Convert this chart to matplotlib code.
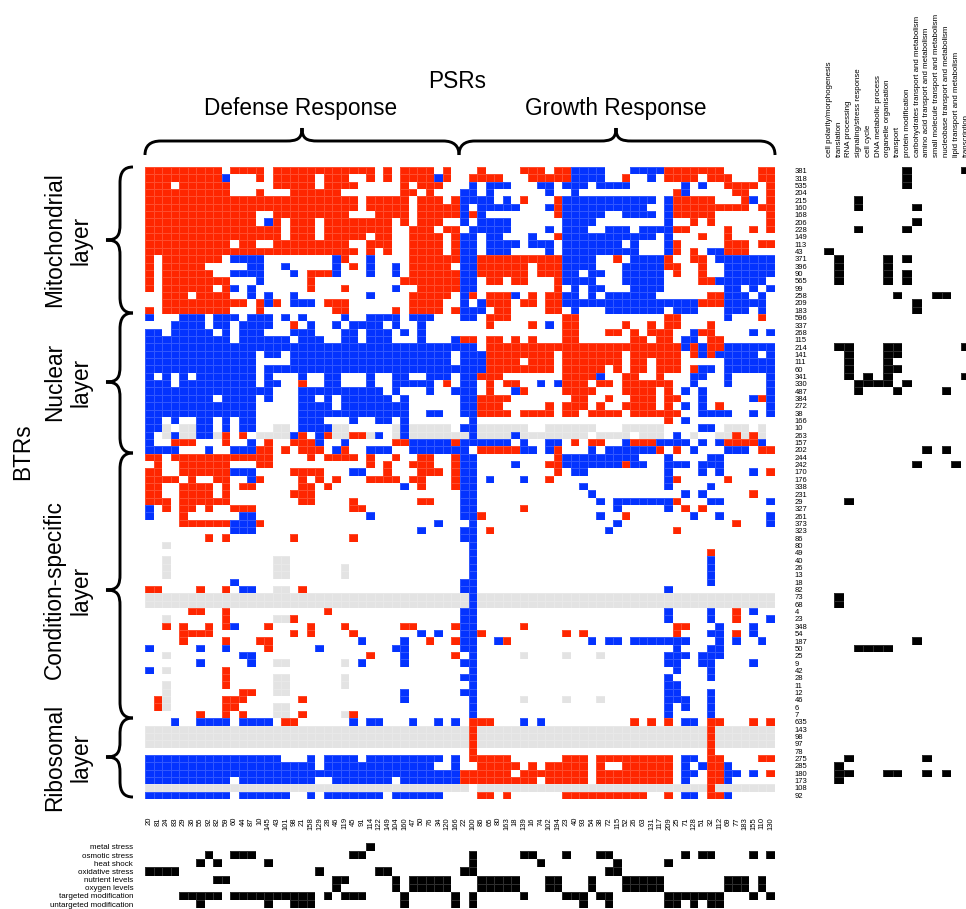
import numpy as np
import matplotlib
matplotlib.use('Agg')
import matplotlib.pyplot as plt
from matplotlib.colors import ListedColormap
from matplotlib.path import Path
from matplotlib.patches import PathPatch

plt.rcParams['font.family'] = ['Liberation Sans', 'DejaVu Sans']

# ----------------------
# Labels
# ----------------------
psr_labels = ['20','81','24','83','29','36','55','92','82','59','60','44','87','10','145','43','101','98','21','158',
              '129','28','46','119','45','91','114','122','149','104','160','47','50','76','34','120','166','22','100','86',
              '65','80','163','18','139','16','74','102','194','23','40','93','54','38','72','115','52','26','63','131',
              '117','209','25','71','128','51','32','112','69','77','183','155','110','130']
btr_labels = ['381','318','535','204','215','160','168','206','228','149','113','43','371','396','90','565','99','258','209','183',
              '596','337','268','115','214','141','111','60','341','330','487','384','272','38','166','10','263','157','202','244',
              '242','170','176','338','231','29','327','261','373','323','86','80','49','40','26','13','18','82','73','68',
              '4','23','348','54','187','50','25','9','42','28','11','12','46','6','7','635','143','98','97','78',
              '275','285','180','173','108','92']
condition_labels = ['metal stress','osmotic stress','heat shock','oxidative stress','nutrient levels','oxygen levels',
                    'targeted modification','untargeted modification']
function_labels = ['cell polarity/morphogenesis','translation','RNA processing','signaling/stress response','cell cycle',
                   'DNA metabolic process','organelle organisation','transport','protein modification',
                   'carbohydrates transport and metabolism','amino acid transport and metabolism',
                   'small molecule transport and metabolism','nucleobase transport and metabolism',
                   'lipid transport and metabolism','transcription']

# ----------------------
# Cells, one string per row
# r: red, b: blue, g: grey (no data), k: black, then column or column range
# ----------------------
main_rows = [
    "r0-8 r10-13 r15-26 r28 r30-33 r35 r39 r44-46 r48-49 b50-53 b57-60 r61-67 r72-73",
    "r0-8 b9 r13 r15-19 r21-23 r26 r28 r30-33 b34 r35 r38-41 r45-49 b50-53 r56 b59 r61-64 r66-68 r72-73",
    "r0-2 r4-9 r15-19 r21-24 r30 r32-34 b38 b40-42 b46-47 b49-51 b53-56 b63 b65 r68-71 r73",
    "r0-9 r13 r17-22 r30-31 r33 b37-38 b40 b47 b50 r62 b63 r69-70 r73",
    "r0-24 r26-30 r32-34 r36 b37-40 b42 r44 r48 b49-59 b61 r62-66 r70 b71 r73",
    "r0-24 r26-30 r32-36 b37 b39-43 b47 r48 b49-58 b61 r62-70 r72-73",
    "r0-12 r15-23 r27-30 r32-36 b37 r38 b39 r48 b49-53 b56-59 b61 r62-66 r73",
    "r0-12 b14 r15 r17-19 r21-28 r30 r32-34 b37 b39-42 b49-52 b61 r64 r66 r73",
    "r0-15 r17-19 r21-28 r31-33 r35-36 b38-42 b47 b49-51 b54-56 b58-61 r62-63 r68 r71 r73",
    "r0-15 r17-19 r21-25 r27-28 r31-34 r36 b37-38 b40-41 b45 r48 b49-59 b61 r65 r68",
    "r0-9 r11-12 r15-23 r26-28 r31-34 r36 b37-38 b40-43 b45-47 b49-55 b57 b61 r62 r68-70 r72-73",
    "r0-24 r26 r28 r31-34 r36 b37-38 b40-42 b47 b49-57 b61 r62 r64 b66-67 r68-70",
    "r0 r2-8 b10-13 b22 r23 b26 r31-36 b37-38 r39-48 b49-52 r55 b57-60 r61 r64-65 b67-73",
    "r0 r2-6 b12-13 b16 b22 r24 b26 b29 r31-35 b37-38 r39-44 r46-48 b49-52 b56-60 r61-62 r65 b68-73",
    "r0 r2-7 b10-13 b17 r19-21 b22 b26 b29 r31-36 b37-38 r39-44 r46-48 b49-50 b52-53 b56-60 r62 r65 b68-73",
    "r0 r2-9 b13 r19 r30-36 b37-38 r40-41 r43-44 r48 b49-52 b56-60 r65-66 b67-72",
    "r0 r2-7 r9 b10 b12 r19 r23 b29 r32-36 b37-38 r48 b50 b52-53 b57-60 b68-69 b71 b73",
    "r2-4 r6-9 b12 b14 b17 b26 r31-35 b37 r38 r40-42 b43 r45 r47-48 b49-50 b52 b54-59 r66-67 b68-70 b72",
    "r2-11 r13 b14 r15 b17-19 r21-23 r31-34 b37 b39 r40-42 r44-45 r47-48 b49-64 r65-67 b68-72",
    "r0 r2-9 r13 r22-23 r29 r31-34 r36 b37-39 r41-42 r47-48 b50 b54-60 b62-64 b68-70 b72",
    "b0 b4-6 b8-10 b12-14 b16 b18 b23 b26-29 b31-33 b37-38 r40-42 r49-50 r61-62 b68 r72",
    "b3-6 b8-9 b11-14 r17 b19 b22 b24-27 b29 b32 r40 r45 b47 r49-50 r56 r59 r61-62 r66",
    "b0-1 b3-7 b9 b11-13 b17-19 b23-24 b26-28 b30 b32 r49-50 r54-55 r57 r59-61 b64 r65-66 b71 b73",
    "b0-9 b11-16 b18-20 b23-24 b26-28 b32 b36 r37-38 r40-41 r43 r45 r49-50 r57-58 r60-61 b63-64 r66-67",
    "b0-38 r40-62 b63 r64 b65 r66-67 b68-73",
    "b0-12 b14-15 b17-35 b37-39 r40-47 r49-55 r57-62 r64 b65 r66 b67-71 b73",
    "b0-12 b17-35 b37-39 r40-43 r45-47 r49-55 r57-58 r60-62 b68-73",
    "b0-12 b14-39 r40-47 r49-53 r55 r57-58 r60-62 r64 b65-66 b68-73",
    "b0 b2 b4 b6-12 b14 b18 b21-22 b26 b29-30 b33-35 b37-38 r39-41 r49-52 b53 r56-57 r60 b64-65 b68 b73",
    "b0-2 b4-12 b14-15 r18 b21-22 b26 b29-33 r35 b37-38 r40 r42-43 b46 b48 r49-51 r53-54 r56-61 b64 b68 b73",
    "b0-14 b18-27 b29 b33 b36-38 r40 b43 r44 r49-52 r56-59 r61 b63 b65 b73",
    "b0-7 b9-12 b14 b18-19 b21 b23-28 b30 b37-38 r39-42 r50-51 r54 r57-59 r61-62 b65 b71 r72 b73",
    "b0-12 b18-21 b23-30 b37-38 r39-41 r47 r49-51 r53 r56-59 r61 b63 b65 r67 b73",
    "b0-12 b18-30 b33-34 b37-38 r39-42 r44-47 r49-50 r52-55 r57-62 b65-68 b71 b73",
    "b0-1 b3 b6-7 b9 b11-12 b18-20 b24 b27-28 b30 b38 r61 b63",
    "b0-1 g2 g4-5 b6-7 b9 b11-12 g15-16 b18-21 g22-23 g29 b30 g31-35 b37-38 g39-44 g47-52 g56-60 b65-66 g68-70 g72",
    "b0 g2 b3 g4-5 b6-7 g8 r9 r11 g13-16 b17 r18 b20 r21 g22-23 r24-25 g26 b27 g29 b30 g31-37 b38 g39-42 b43 g44-51 g53-56 g58-60 b62 g64 g67-68 r69 g70 r71 g72",
    "b0 r3-5 r9 b12 r14 r17-19 b20 b23 r29-30 b31-35 r36 b37-42 b44 b47-48 r50 r52-53 b56 r57-59 b60-63 b65 b67 r68-71 b72",
    "b0-3 b7 b10-12 r13-14 r16 r18-20 b22 r23 b26-28 b31-37 r39-43 b44-45 b47 r48 b52 b54-59 r60 r62 b64 b68-70 r72-73",
    "r0-1 r3-14 r19 r21-24 r26 r29 r32-33 r36 b37-38 r48 b49-57 b61 b66-67",
    "r1 r4-9 r13-14 r26 r28 r31-33 r36 b37-38 b43 r47-48 b49-55 r56 b57-58 b61-63 b65-67",
    "r0-1 r4-9 b10-12 r17-20 b24-25 r28 r32-34 r36 b37-38 r48 b50-51 b61 b65 b67 b71 r73",
    "r0-3 r5 r8-9 b12 r13 r18 r20 r22 r26-29 r31-32 r36 b37-38 b40 b44 r47 b61 r62 r68",
    "r0-1 r4-7 r9 r11-12 r18-19 r21 b30 r32 r36 b37-38 b51 b61 b66",
    "r0-1 r4-7 r9 r17-19 b37-38 b52 b63 b65 r71",
    "r0-2 r4-9 r18-19 r24 r32-33 b37-38 b53 b55-61 r62 b66-67 b73",
    "b0 r2 r4-5 r7 r10-12 r24-25 b37-38 r44 b55 b61 r63 r65",
    "b0 r4 b11-12 b26 b37-38 r39 b53 r56 b64 b67 b73",
    "r4-9 b10-12 r13 b34 b38 b55 r69 b73",
    "b10-12 b32 b37-38 r40 b54 r62",
    "r7 r9 r17 r24 b37-38",
    "g2 b38",
    "b38 r66",
    "g2 g15-16 b38 b66",
    "g2 g15-16 g23 b38 b66",
    "g2 g15-16 g23 b38 b66",
    "b10 b37-38 b66",
    "r0-1 r6 r9 b11-12 g15-16 r18 b37-38 b61",
    "g0-37 b38 g39-73",
    "g0-37 b38 g39-73",
    "r5-6 r9 r21 b37-38 b61 b66 r69 b71",
    "g2 r9 g15-16 r17 b37-38 b61 b66 r69 b73",
    "r2 r4 r7 r9 b10 r14 r19 r23 r30-31 r36 b37-38 r44 r62-63 b67 b71",
    "r4-7 r17 r19 r24 b32 b34 b37-38 r39 r49 r51 r62 b66-67 r69 b71",
    "r4 r9 r13-14 b25 b30 r33 r36 b37-38 b41 r42 b52 b54-55 b57-63 b67 b69 b72",
    "b0 b6 b9 r14 b20 b29-30 b37-38 b62 b66-67",
    "g2 b11-12 r26 b30 r36 b38 g44 g49 g53 b61-63 b65-67",
    "b6 b12 g15-16 g23 b25 b30 b37-38 b61-62 b65-66 b71",
    "b0 g2 r9 b38 b62 b66",
    "r9 g15-16 g23 b37-38 b61 b66",
    "g2 r9 g15-16 g23 b38 b61-62",
    "g2 r11-12 g15-16 b30 b37-38 b61-62 b66",
    "r1 g2 r9-11 r18 b30 b38 g44 g49 g53 b61-63 b66",
    "r1 g2 r9-10 g15-16 b38 b61 b63 b66",
    "r6 r9 r11 g15-16 r18 g23 r24 b38 b61 b66",
    "b3 b6-9 b11-14 r16-17 b24 b26-27 b31 b34 b36 r38-40 b44 b46 r57 r59 r61 b63-64 r66-67 r71 r73",
    "g0-37 r38 g39-65 r66 g67-73",
    "g0-37 r38 g39-65 r66 g67-73",
    "g0-37 r38 g39-65 r66 g67-73",
    "r38 r66",
    "b0-15 b19 b21-24 b26-34 b36 r38-42 r49-51 r53-61 b63-64 r66-67 r72-73",
    "b0-19 b21-33 b36 r39-43 r45 r47-51 r53 r56-61 b63 b65 r66-67 b68",
    "b0-36 r37-42 r44-51 r53-61 b63-64 r66-67 b68-69 b71 r73",
    "b0-9 b11-19 b22-28 b30-36 r37-45 r47-51 r53-61 b63 r66-67 b68",
    "g0-37 g39-65 r66 g67-73",
    "b0-9 b11-16 b19 b21-27 b29-34 r39-40 r42 r49-58 r61 b63-64 r66-67 b68",
]

condition_rows = [
    "k26",
    "k7 k10-12 k24-25 k38 k44-45 k49 k53-54 k63 k65-66 k71 k73",
    "k6 k8 k14 k38 k46 k55 k61",
    "k0-3 k20 k27-28 k37-38 k54-55",
    "k8-9 k22-23 k29 k31-35 k39-43 k47-48 k52 k56-60 k68-70 k72",
    "k22 k29 k31-35 k39-43 k47-48 k52 k56-60 k68-70 k72",
    "k4-8 k10-19 k21 k23-25 k30 k36 k38 k44 k49-51 k53-54 k61-67 k71 k73",
    "k6 k14 k17-19 k30 k36 k38 k51 k54 k61-62 k64 k66-67",
]

# row index in btr_labels -> cells in the function table
function_cells = {
    0: "k8 k14", 1: "k8", 2: "k8", 4: "k3", 5: "k3 k9", 7: "k9", 8: "k3 k8", 11: "k0",
    12: "k1 k6 k8", 13: "k1 k6", 14: "k1 k6 k8", 15: "k1 k6 k8", 17: "k7 k11-12", 18: "k9", 19: "k9",
    24: "k1-2 k6-7 k14", 25: "k2 k6-7", 26: "k2 k6", 27: "k2 k6-7", 28: "k2 k4 k6 k14", 29: "k3-6 k8",
    30: "k3 k7 k12", 38: "k10 k12", 40: "k9 k13", 45: "k2", 58: "k1", 59: "k1", 64: "k9", 65: "k3-6",
    80: "k2 k10", 81: "k1", 82: "k1-2 k6-7 k10 k12", 83: "k1",
}

code_values = {'r': 1, 'b': 2, 'g': 3, 'k': 4}
cell_colors = ListedColormap(['#ffffff', '#ff2600', '#0433ff', '#e3e3e3', '#000000'])

# ----------------------
# Helper: turn row strings into a matrix
# ----------------------
def build_matrix(rows, n_cols):
    matrix = np.zeros((len(rows), n_cols), dtype=int)
    for i, row in enumerate(rows):
        for token in row.split():
            code = code_values[token[0]]
            parts = token[1:].split('-')
            start = int(parts[0])
            end = int(parts[-1])
            matrix[i, start:end + 1] = code
    return matrix

def add_px_axes(fig, x, y, w, h):
    return fig.add_axes([x / 966, 1 - (y + h) / 909, w / 966, h / 909])

def draw_cells(ax, matrix, edge):
    ax.pcolormesh(matrix, cmap=cell_colors, vmin=0, vmax=4, edgecolors=edge, linewidth=0.4)
    ax.invert_yaxis()
    for spine in ax.spines.values():
        spine.set_visible(False)
    ax.tick_params(length=0)

# ----------------------
# Figure
# ----------------------
fig = plt.figure(figsize=(9.66, 9.09), dpi=100)

# main matrix
main = build_matrix(main_rows, len(psr_labels))
ax = add_px_axes(fig, 145, 167, 630, 632)
draw_cells(ax, main, (1, 1, 1, 0.18))
ax.set_xticks(np.arange(len(psr_labels)) + 0.5)
ax.set_xticklabels(psr_labels, rotation=90, fontsize=5.5, va='top', ha='center')
ax.set_yticks(np.arange(len(btr_labels)) + 0.5)
ax.set_yticklabels(btr_labels, fontsize=5.5)
ax.yaxis.tick_right()
ax.tick_params(axis='x', pad=13)
ax.tick_params(axis='y', pad=14)

# conditions table below
conditions = build_matrix(condition_rows, len(psr_labels))
ax_low = add_px_axes(fig, 145, 842.7, 630, 65.6)
draw_cells(ax_low, conditions, (1, 1, 1, 0.18))
ax_low.set_xticks([])
ax_low.set_yticks(np.arange(len(condition_labels)) + 0.5)
ax_low.set_yticklabels(condition_labels, fontsize=5.8)
ax_low.tick_params(axis='y', pad=8.5)

# function table on the right
function_rows = [function_cells.get(i, "") for i in range(len(btr_labels))]
functions = build_matrix(function_rows, len(function_labels))
ax_right = add_px_axes(fig, 824.3, 167, 146.6, 632)
draw_cells(ax_right, functions, (1, 1, 1, 0.18))
ax_right.set_yticks([])
ax_right.set_xticks(np.arange(len(function_labels)) + 0.5)
ax_right.set_xticklabels(function_labels, rotation=90, fontsize=5.7, va='bottom', ha='center')
ax_right.xaxis.tick_top()
ax_right.tick_params(axis='x', pad=7)

# overlay for braces and big labels, in image pixels
over = fig.add_axes([0, 0, 1, 1])
over.set_xlim(0, 966)
over.set_ylim(909, 0)
over.axis('off')
over.patch.set_alpha(0)

def top_brace(x0, xm, x1, tip=155, shoulder=141, peak=128):
    verts = [(x0, tip), (x0, tip - 9), (x0 + 5, shoulder), (x0 + 16, shoulder),
             (xm - 16, shoulder), (xm - 5, shoulder), (xm, shoulder - 2), (xm, peak),
             (xm, shoulder - 2), (xm + 5, shoulder), (xm + 16, shoulder),
             (x1 - 16, shoulder), (x1 - 5, shoulder), (x1, tip - 9), (x1, tip)]
    codes = [Path.MOVETO, Path.CURVE4, Path.CURVE4, Path.CURVE4, Path.LINETO,
             Path.CURVE4, Path.CURVE4, Path.CURVE4, Path.CURVE4, Path.CURVE4, Path.CURVE4,
             Path.LINETO, Path.CURVE4, Path.CURVE4, Path.CURVE4]
    over.add_patch(PathPatch(Path(verts, codes), fc='none', ec='black', lw=2.1))

def left_brace(y0, ym, y1, tip=133, shoulder=120, peak=106):
    verts = [(tip, y0), (tip - 9, y0), (shoulder, y0 + 5), (shoulder, y0 + 16),
             (shoulder, ym - 16), (shoulder, ym - 5), (shoulder - 2, ym), (peak, ym),
             (shoulder - 2, ym), (shoulder, ym + 5), (shoulder, ym + 16),
             (shoulder, y1 - 16), (shoulder, y1 - 5), (tip - 9, y1), (tip, y1)]
    codes = [Path.MOVETO, Path.CURVE4, Path.CURVE4, Path.CURVE4, Path.LINETO,
             Path.CURVE4, Path.CURVE4, Path.CURVE4, Path.CURVE4, Path.CURVE4, Path.CURVE4,
             Path.LINETO, Path.CURVE4, Path.CURVE4, Path.CURVE4]
    over.add_patch(PathPatch(Path(verts, codes), fc='none', ec='black', lw=2.1))

top_brace(145, 302, 459)
top_brace(459, 616, 775)
left_brace(167, 240, 313)
left_brace(313, 382, 453)
left_brace(453, 590, 718)
left_brace(718, 757, 797)

big = 16.3
over.text(457, 81, 'PSRs', fontsize=big, ha='center', va='center')
over.text(301, 108, 'Defense Response', fontsize=big, ha='center', va='center')
over.text(616, 108, 'Growth Response', fontsize=big, ha='center', va='center')
over.text(23, 452, 'BTRs', fontsize=big, rotation=90, ha='center', va='center')
over.text(68, 240, 'Mitochondrial\nlayer', fontsize=big, rotation=90, ha='center', va='center', multialignment='center')
over.text(68, 382, 'Nuclear\nlayer', fontsize=big, rotation=90, ha='center', va='center', multialignment='center')
over.text(68, 590, 'Condition-specific\nlayer', fontsize=big, rotation=90, ha='center', va='center', multialignment='center')
over.text(68, 757, 'Ribosomal\nlayer', fontsize=big, rotation=90, ha='center', va='center', multialignment='center')

fig.savefig('out.png', dpi=100)
